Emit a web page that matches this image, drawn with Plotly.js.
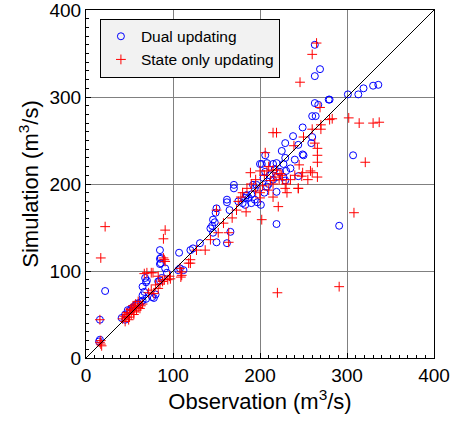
<!DOCTYPE html>
<html>
<head>
<meta charset="utf-8">
<script src="https://cdn.plot.ly/plotly-3.0.1.min.js"></script>
<style>html,body{margin:0;padding:0;background:#fff;}#chart{width:455px;height:421px;}</style>
</head>
<body>
<div id="chart"></div>
<script>
// Dual updating (blue circles)
const dualObs = [15,16,16,22,41,45,45,48,52,54,56,60,63,65,58,50,65,67,65,69,68,70,76,78,80,69,
  85,86,91,93,87,85,83,86,106,108,112,107,120,123,131,85,85,
  143,145,148,146,150,166,162,165,150,149,146,162,
  162,170,170,175,180,184,190,192,197,183,185,187,183,194,201,196,194,208,
  202,208,215,219,227,200,206,217,223,211,204,219,227,229,244,219,219,291,
  225,229,229,206,238,244,250,249,249,259,260,260,264,263,267,279,263,269,263,
  280,301,313,319,330,336,307,210,215,205,190,230,235,240];
const dualSim = [19,21,44,77,46,44,50,55,57,58,60,63,64,66,62,54,72,76,82,87,92,89,70,69,73,68,
  108,115,103,98,92,89,88,109,101,103,101,121,124,126,132,124,114,
  149,152,156,144,133,145,182,170,172,167,159,132,
  179,199,195,180,178,187,178,199,179,184,187,184,176,182,176,199,195,197,
  223,224,223,224,223,223,214,217,214,210,207,208,208,204,209,191,154,152,
  238,247,230,233,255,245,233,265,234,247,254,278,278,293,291,297,324,332,360,
  297,303,303,310,313,314,233,200,205,190,188,215,218,228];

// State only updating (red crosses)
const stateObs = [17,22,16,17,16,18,17,
  42,44,46,45,48,50,52,50,53,55,56,58,60,62,57,54,47,49,51,63,65,60,55,
  67,75,70,77,83,83,85,88,90,94,96,80,72,75,78,
  89,91,90,91,89,97,108,110,110,109,120,118,120,127,137,143,152,158,164,164,168,150,173,184,
  189,200,200,206,215,219,215,221,202,220,215,219,223,217,212,215,222,225,229,231,244,249,248,260,266,
  263,239,250,266,266,266,246,260,265,269,280,270,270,260,283,302,314,330,337,321,308,291,
  190,195,205,208,210,200,185,180,178,175,195,203,210,226,230,235,240,255,258,245,244];
const stateSim = [115,151,44,16,18,14,20,
  45,48,47,42,50,52,50,47,55,53,58,55,58,57,62,60,52,44,56,60,62,65,50,
  97,98,98,98,94,80,85,88,90,90,94,84,75,78,74,
  115,111,113,147,137,91,103,99,95,93,109,109,113,124,124,136,144,155,144,133,161,170,170,168,
  213,190,184,236,259,259,185,174,159,75,216,216,212,208,204,200,205,210,195,190,195,213,209,213,208,
  247,244,254,241,233,225,317,349,362,288,274,268,263,263,275,276,270,270,271,225,167,82,
  200,205,210,215,220,215,195,190,185,180,192,198,193,205,200,205,210,205,215,222,195];

const lineXY = [0, 400];
const tickVals = [0, 100, 200, 300, 400];
const tickText = ['0', '100', '200', '300', '400'];

const data = [
  {x: dualObs, y: dualSim, type: 'scatter', mode: 'markers', name: 'Dual updating',
   marker: {symbol: 'circle-open', size: 7, color: '#0000ff', line: {width: 1, color: '#0000ff'}}},
  {x: stateObs, y: stateSim, type: 'scatter', mode: 'markers', name: 'State only updating',
   marker: {symbol: 'cross-thin-open', size: 7, color: '#ff0000', line: {width: 1, color: '#ff0000'}}},
  {x: lineXY, y: lineXY, type: 'scatter', mode: 'lines', showlegend: false,
   line: {color: '#000', width: 1}, hoverinfo: 'skip'}
];

const axisCommon = {
  range: [0, 400], tickmode: 'array', tickvals: tickVals, ticktext: tickText,
  showgrid: true, gridcolor: '#808080', gridwidth: 1, zeroline: false,
  showline: true, linecolor: '#000', linewidth: 1, mirror: true,
  ticks: 'inside', ticklen: 5, tickcolor: '#000', ticklabeloverflow: 'allow',
  minor: {dtick: 10, tick0: 0, ticks: 'inside', ticklen: 3, tickcolor: '#000', showgrid: false},
  tickfont: {family: 'Liberation Sans, Arial, sans-serif', size: 19, color: '#000'}
};

const layout = {
  width: 455, height: 421,
  margin: {l: 86, r: 21, t: 10, b: 63},
  paper_bgcolor: '#fff', plot_bgcolor: '#fff',
  font: {family: 'Liberation Sans, Arial, sans-serif', color: '#000'},
  showlegend: true,
  xaxis: Object.assign({}, axisCommon, {
    title: {text: 'Observation (m<sup>3</sup>/s)', font: {size: 22}, standoff: 2}
  }),
  yaxis: Object.assign({}, axisCommon, {
    title: {text: 'Simulation (m<sup>3</sup>/s)', font: {size: 22}, standoff: 4}
  }),
  legend: {x: 0.04, y: 0.975, xanchor: 'left', yanchor: 'top',
    bgcolor: '#f2f2f2', bordercolor: '#000', borderwidth: 1,
    font: {size: 15.5, family: 'Liberation Sans, Arial, sans-serif'},
    tracegroupgap: 0, itemwidth: 30}
};

Plotly.newPlot('chart', data, layout, {displayModeBar: false, staticPlot: true});
</script>
</body>
</html>
